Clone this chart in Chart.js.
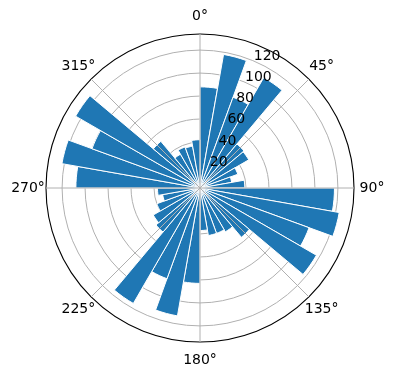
<!DOCTYPE html>
<html>
<head>
<meta charset="utf-8">
<script src="https://cdn.jsdelivr.net/npm/chart.js@4"></script>
<style>
  html, body { margin: 0; padding: 0; background: #fff; }
  #wrap { width: 396px; height: 380px; }
</style>
</head>
<body>
<div id="wrap"><canvas id="c" width="396" height="380"></canvas></div>
<script>
// 36 direction bins, 10 degrees each, clockwise from north
const directions = [];
for (let d = 0; d < 360; d += 10) directions.push(d + '°');

const counts = [
  88, 118, 84, 111, 50, 49, 35, 28, 39,
  117, 123, 101, 117, 56, 44, 42, 42, 37,
  83, 113, 84, 116, 50, 47, 40, 33, 37,
  108, 122, 100, 125, 53, 34, 38, 37, 42
];

const radialTicks = [20, 40, 60, 80, 100, 120];
const radialMax = 134;
const angleTicks = [0, 45, 90, 135, 180, 225, 270, 315];
const angleLabels = ['0°', '45°', '90°', '135°', '180°', '225°', '270°', '315°'];

const FONT = "14px 'DejaVu Sans', sans-serif";
const GRID = '#b0b0b0';

function pointAt(scale, r, deg) {
  const a = deg * Math.PI / 180;
  return { x: scale.xCenter + r * Math.sin(a), y: scale.yCenter - r * Math.cos(a) };
}

// angular grid lines (over bars) + labels
const polarDecor = {
  id: 'polarDecor',
  afterDatasetsDraw(chart) {
    const scale = chart.scales.r;
    const ctx = chart.ctx;
    const R = scale.getDistanceFromCenterForValue(radialMax);
    ctx.save();
    ctx.strokeStyle = GRID;
    ctx.lineWidth = 1;
    angleTicks.forEach(deg => {
      const p = pointAt(scale, R, deg);
      ctx.beginPath();
      ctx.moveTo(scale.xCenter, scale.yCenter);
      ctx.lineTo(p.x, p.y);
      ctx.stroke();
    });
    ctx.restore();
  },
  afterDraw(chart) {
    const scale = chart.scales.r;
    const ctx = chart.ctx;
    const R = scale.getDistanceFromCenterForValue(radialMax);
    ctx.save();
    ctx.fillStyle = '#000';
    ctx.font = FONT;
    ctx.textAlign = 'center';
    ctx.textBaseline = 'middle';
    angleTicks.forEach((deg, i) => {
      const p = pointAt(scale, R + 18, deg);
      ctx.fillText(angleLabels[i], p.x, p.y);
    });
    ctx.textAlign = 'left';
    ctx.textBaseline = 'alphabetic';
    radialTicks.forEach(v => {
      const p = pointAt(scale, scale.getDistanceFromCenterForValue(v), 22.5);
      ctx.fillText(String(v), p.x + 1, p.y - 1);
    });
    ctx.restore();
  }
};

new Chart(document.getElementById('c'), {
  type: 'polarArea',
  data: {
    labels: directions,
    datasets: [{
      data: counts,
      backgroundColor: '#1f77b4',
      borderColor: '#ffffff',
      borderWidth: 1
    }]
  },
  options: {
    responsive: false,
    animation: false,
    layout: { padding: { left: 46, right: 42, top: 34, bottom: 38 } },
    plugins: {
      legend: { display: false },
      tooltip: { enabled: false }
    },
    scales: {
      r: {
        min: 0,
        max: radialMax,
        z: 1,
        afterBuildTicks: scale => {
          scale.ticks = [0].concat(radialTicks, [radialMax]).map(v => ({ value: v }));
        },
        ticks: { display: false },
        pointLabels: { display: false },
        angleLines: { display: false },
        grid: {
          circular: true,
          color: c => (c.tick && c.tick.value === radialMax) ? '#000' : GRID,
          lineWidth: c => (c.tick && c.tick.value === radialMax) ? 1.1 : 1
        }
      }
    }
  },
  plugins: [polarDecor]
});
</script>
</body>
</html>
